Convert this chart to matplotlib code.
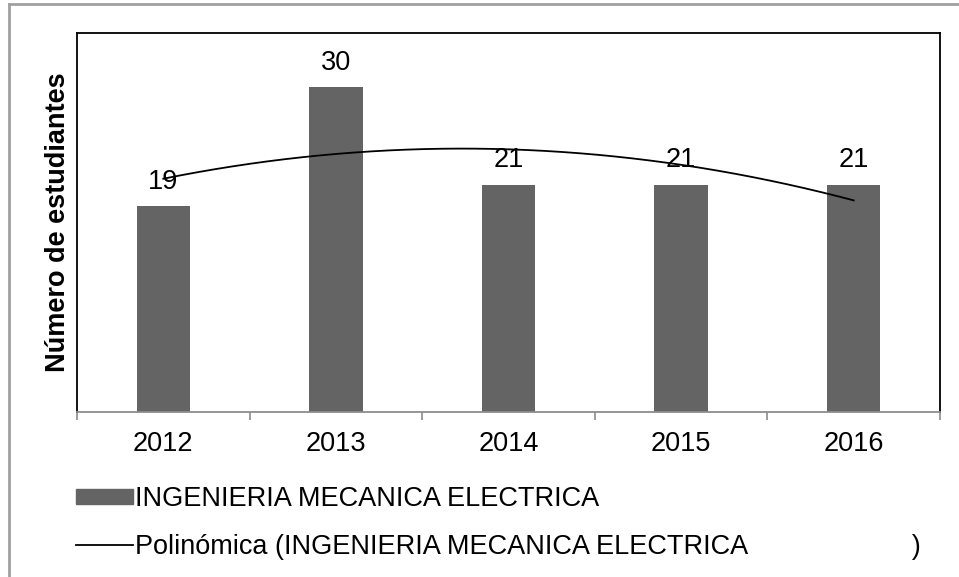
import numpy as np
import matplotlib.pyplot as plt
from matplotlib.lines import Line2D
from matplotlib.patches import Rectangle

years = ['2012', '2013', '2014', '2015', '2016']
students = [19, 30, 21, 21, 21]
series_name = 'INGENIERIA MECANICA ELECTRICA'
trend_name = 'Polinómica (INGENIERIA MECANICA ELECTRICA' + ' ' * 22 + ')'

plt.rcParams['font.family'] = ['Liberation Sans', 'DejaVu Sans']

W, H = 959, 577
fs = 19.5
fig = plt.figure(figsize=(W / 100, H / 100), dpi=100)
ax = fig.add_axes([77 / W, 1 - 412 / H, (940 - 77) / W, (412 - 33) / H])

x = np.arange(len(years))
bar_color = '#646464'
ax.bar(x, students, width=0.31, color=bar_color, zorder=2)

for xi, v in zip(x, students):
    ax.annotate(str(v), (xi, v), xytext=(0, 8), textcoords='offset points',
                ha='center', va='bottom', fontsize=fs, color='black')

# second order polynomial trend line
coef = np.polyfit(x, students, 2)
xs = np.linspace(x[0], x[-1], 200)
ax.plot(xs, np.polyval(coef, xs), color='black', lw=1.3, zorder=3)

ax.set_xlim(-0.5, len(years) - 0.5)
ax.set_ylim(0, 35)
ax.set_yticks([])
ax.set_xticks(x)
ax.set_xticklabels(years, fontsize=fs)
ax.tick_params(axis='x', which='major', length=0, pad=14)
ax.set_xticks(np.arange(-0.5, len(years)), minor=True)
ax.tick_params(axis='x', which='minor', length=6, width=1.2, color='#8c8c8c')

for side in ['left', 'top', 'right']:
    ax.spines[side].set_color('black')
    ax.spines[side].set_linewidth(1.3)
ax.spines['bottom'].set_color('#8c8c8c')
ax.spines['bottom'].set_linewidth(1.3)

ax.set_ylabel('Número de estudiantes', fontsize=fs, fontweight='bold', labelpad=4)

handles = [Rectangle((0, 0), 1, 1, color=bar_color),
           Line2D([0], [0], color='black', lw=1.3)]
fig.legend(handles, [series_name, trend_name], loc='upper left',
           bbox_to_anchor=(76 / W, 1 - 486 / H), frameon=False, fontsize=fs,
           handlelength=2.1, handleheight=0.52, handletextpad=0.07,
           labelspacing=0.82, borderaxespad=0, borderpad=0)

# outer chart border
fig.add_artist(Line2D([9 / W, 1], [1 - 4 / H, 1 - 4 / H], color='#a0a0a0', lw=2,
                      transform=fig.transFigure))
fig.add_artist(Line2D([9 / W, 9 / W], [0, 1 - 4 / H], color='#a0a0a0', lw=2,
                      transform=fig.transFigure))

fig.savefig('out.png', dpi=100)
